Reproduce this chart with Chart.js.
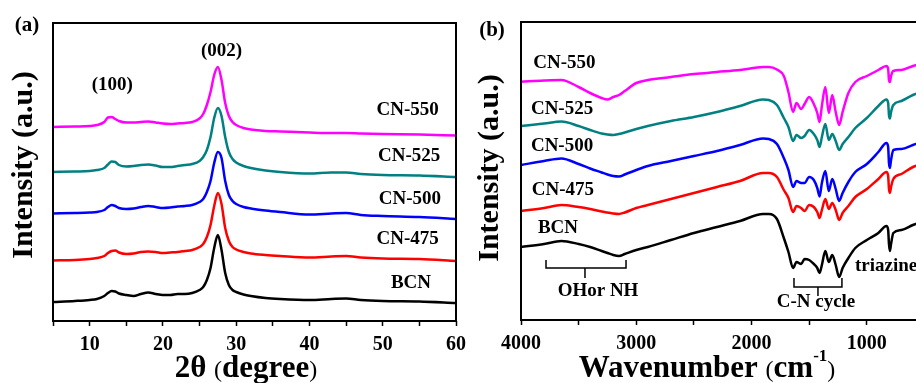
<!DOCTYPE html>
<html>
<head>
<meta charset="utf-8">
<script src="https://cdn.jsdelivr.net/npm/chart.js@4.4.1/dist/chart.umd.min.js"></script>
<style>
  html, body { margin: 0; padding: 0; background: #fff; }
  body { width: 916px; height: 383px; overflow: hidden; position: relative; }
  canvas { position: absolute; top: 0; }
  #xrdChart { left: 0; }
  #ftirChart { left: 470px; }
</style>
</head>
<body>
<canvas id="xrdChart" width="490" height="383"></canvas>
<canvas id="ftirChart" width="480" height="383"></canvas>
<script>
// samples, bottom to top
const samples = ['BCN', 'CN-475', 'CN-500', 'CN-525', 'CN-550'];
const colors = ['#000000', '#ff0000', '#0000ff', '#008080', '#ff00ff'];

// (a) XRD, stacked intensities (a.u.)
const twoTheta = [5, 8, 10, 11, 12, 12.5, 13, 13.5, 14, 15, 16, 17, 18, 19, 20, 21, 22, 23, 24, 25,
  25.5, 26, 26.5, 27, 27.5, 28, 28.5, 29, 29.5, 30, 31, 32, 34, 36, 40, 43, 45, 47, 50, 55, 60];
const xrdBCN = [20, 21, 22, 23, 26, 29, 31, 30.5, 28.5, 27, 26, 28, 29.5, 28, 27, 27, 28, 28, 29, 32,
  35, 42, 54, 74, 87, 72, 49, 37, 32, 30, 27.5, 26, 24, 23, 22, 23, 23.5, 22, 21, 20.5, 19];
const xrd475 = [61.5, 62, 63, 64, 66, 69, 71, 71.5, 69.5, 68, 68.5, 70, 70.5, 70, 69, 69.5, 70, 71, 72, 75,
  78, 85, 97, 116, 129, 118, 94, 81, 75, 72.5, 70, 68.5, 67, 66, 64.5, 65.5, 66, 64.5, 63.5, 63, 61];
const xrd500 = [108.5, 109, 109.5, 110, 112, 115, 117, 116, 114, 113, 113.5, 115, 116, 115, 114, 114.5, 115.5, 116, 117, 120,
  123, 130, 141, 159, 170, 164, 141, 127, 121, 118, 115, 113.5, 111.5, 110, 107.5, 108.5, 109, 107, 106, 105, 103];
const xrd525 = [150, 150.5, 151, 152, 154, 157.5, 160.5, 160, 157, 155.5, 156, 157, 157.5, 156.5, 155, 155, 156, 157, 158, 161,
  165, 172, 185, 204, 214, 206, 185, 170, 163, 159.5, 156, 154, 151.5, 150, 148.5, 149.5, 149.5, 148, 147, 146.5, 145];
const xrd550 = [195, 195.5, 196, 197, 200, 204.5, 205, 203, 201, 199.5, 199.5, 200, 200.5, 199.5, 198.5, 198, 198.5, 199, 200, 203.5,
  208, 217, 230, 247, 255, 242, 219, 206, 200, 197, 194, 192.5, 191, 190.5, 189.5, 189, 189, 188.5, 188, 187.5, 186.5];
const xrdTicks = [5, 10, 15, 20, 25, 30, 35, 40, 45, 50, 55, 60];

// (b) FTIR, stacked transmittance (a.u.)
const wavenumber = [4000, 3800, 3650, 3500, 3400, 3300, 3250, 3200, 3150, 3100, 3000, 2900, 2700, 2500, 2300,
  2100, 1900, 1850, 1780, 1720, 1680, 1640, 1610, 1570, 1540, 1500, 1460, 1430, 1410, 1390,
  1360, 1330, 1300, 1270, 1240, 1210, 1160, 1100, 1000, 900, 830, 815, 808, 800, 790, 770, 700, 600, 500, 400];
const irBCN = [73, 76, 79, 76, 73, 69, 67, 65, 64, 66, 70, 73, 80, 87, 93,
  99, 106, 106, 101, 82, 68, 52, 58, 56, 61, 60, 56, 52, 47, 55,
  69, 58, 65, 55, 43, 52, 62, 72, 80, 87, 94, 90, 76, 69, 76, 87, 90, 95, 99, 102];
const ir475 = [109, 112, 115, 113, 111, 108.5, 107.5, 106.5, 106, 107.5, 112, 115, 121, 127, 133,
  139, 147, 147, 143, 130, 122, 108, 114, 112, 109, 115, 113, 108, 102, 110,
  121, 111, 117, 110, 100, 107, 114, 123, 131, 141, 148, 144, 131, 127, 133, 141, 146, 153, 157, 160];
const ir500 = [155, 159, 161.5, 156, 151.5, 147.5, 145.5, 144, 143.5, 145.5, 150, 154, 159, 164, 169,
  175, 181.5, 181, 176, 162, 150, 133, 139, 137, 137, 143, 140, 132, 123.5, 137,
  149, 129, 141, 131, 119, 127, 138, 148, 156, 168, 177, 173, 157, 152, 160, 170, 171, 175, 179, 182];
const ir525 = [194, 196.5, 198.5, 194, 190, 186.5, 185.5, 185, 186, 187.5, 191, 194, 199, 203, 208,
  214, 220.5, 220, 215, 202, 193, 179, 185, 182, 184, 190, 186, 180, 173, 183,
  196, 180, 186, 179, 170, 176, 183, 192, 202, 214, 220.5, 217, 205, 201.5, 208, 215, 219, 225, 229, 232];
const ir550 = [238.3, 239.5, 240, 233, 227, 222, 220.5, 223, 225, 229, 237, 240, 243, 246, 248,
  250, 253, 253, 250.5, 244, 228, 208, 217, 211, 216, 223, 216, 207, 198, 214,
  233, 207, 225, 208, 195, 208, 227, 238, 244, 250, 254, 251, 240, 238, 244, 249, 250, 254, 257, 259];
const irTicks = [4000, 3500, 3000, 2500, 2000, 1500, 1000, 500];

const xrdSeries = [xrdBCN, xrd475, xrd500, xrd525, xrd550];
const irSeries = [irBCN, ir475, ir500, ir525, ir550];

const serif = '"Liberation Serif", "Times New Roman", serif';

function makeSets(xs, series) {
  return series.map((ys, i) => ({
    label: samples[i],
    data: xs.map((x, j) => ({ x: x, y: ys[j] })),
    borderColor: colors[i],
    borderWidth: 2.5,
    pointRadius: 0,
    cubicInterpolationMode: 'monotone',
    fill: false
  }));
}

// frame, labels, brackets and axis titles
const notes = {
  id: 'notes',
  afterDraw(chart, args, o) {
    const { ctx, chartArea: a } = chart;
    const sx = chart.scales.x, sy = chart.scales.y;
    ctx.save();
    ctx.strokeStyle = '#000';
    ctx.fillStyle = '#000';
    ctx.lineWidth = 2;
    ctx.strokeRect(a.left, a.top, a.right - a.left, a.bottom - a.top);

    ctx.textBaseline = 'middle';
    o.labels.forEach(l => {
      ctx.font = 'bold 19px ' + serif;
      ctx.textAlign = l.align || 'center';
      ctx.fillText(l.text, sx.getPixelForValue(l.x), sy.getPixelForValue(l.y));
    });

    ctx.lineWidth = 1.5;
    (o.brackets || []).forEach(b => {
      const x1 = sx.getPixelForValue(b.from), x2 = sx.getPixelForValue(b.to);
      const xm = sx.getPixelForValue(b.mid);
      const yl = sy.getPixelForValue(b.y), yu = sy.getPixelForValue(b.up), yd = sy.getPixelForValue(b.down);
      ctx.beginPath();
      ctx.moveTo(x1, yu); ctx.lineTo(x1, yl); ctx.lineTo(x2, yl); ctx.lineTo(x2, yu);
      ctx.moveTo(xm, yl); ctx.lineTo(xm, yd);
      ctx.stroke();
    });

    // panel tag
    ctx.font = 'bold 21px ' + serif;
    ctx.textAlign = 'center';
    ctx.fillText(o.tag.text, o.tag.x, o.tag.y);

    // y title
    ctx.save();
    ctx.translate(o.yTitle.x, o.yTitle.y);
    ctx.rotate(-Math.PI / 2);
    ctx.font = 'bold 30px ' + serif;
    ctx.fillText('Intensity (a.u.)', 0, 0);
    ctx.restore();

    // x title made of runs
    ctx.textBaseline = 'alphabetic';
    ctx.textAlign = 'left';
    let total = 0;
    o.xTitle.runs.forEach(r => { ctx.font = r.font + ' ' + serif; r.w = ctx.measureText(r.text).width; total += r.w; });
    let cx = o.xTitle.x - total / 2;
    o.xTitle.runs.forEach(r => {
      ctx.font = r.font + ' ' + serif;
      ctx.fillText(r.text, cx, o.xTitle.y + (r.dy || 0));
      cx += r.w;
    });
    ctx.restore();
  }
};

function axisX(min, max, tickValues, labelEvery, height, reverse) {
  return {
    type: 'linear',
    min: min, max: max, reverse: !!reverse,
    afterBuildTicks: s => { s.ticks = tickValues.map(v => ({ value: v })); },
    ticks: {
      autoSkip: false, maxRotation: 0, padding: 7, color: '#000',
      font: { family: serif, size: 20, weight: 'bold' },
      callback: v => (v % labelEvery === 0 ? v : '')
    },
    grid: { drawOnChartArea: false, tickLength: 5, tickWidth: 1.5, tickColor: '#000' },
    border: { display: false },
    afterFit: s => { s.height = height; }
  };
}

new Chart(document.getElementById('xrdChart'), {
  type: 'line',
  data: { datasets: makeSets(twoTheta, xrdSeries) },
  options: {
    responsive: false,
    animation: false,
    layout: { padding: { top: 23, right: 34, left: 0, bottom: 0 } },
    plugins: {
      legend: { display: false },
      tooltip: { enabled: false },
      notes: {
        labels: [
          { text: 'CN-550', x: 53.4, y: 212 },
          { text: 'CN-525', x: 53.6, y: 166 },
          { text: 'CN-500', x: 53.7, y: 123 },
          { text: 'CN-475', x: 53.4, y: 83 },
          { text: 'BCN', x: 53.85, y: 39 },
          { text: '(100)', x: 13.1, y: 237 },
          { text: '(002)', x: 28.0, y: 271 }
        ],
        tag: { text: '(a)', x: 27, y: 26 },
        yTitle: { x: 24, y: 165 },
        xTitle: {
          x: 246, y: 377,
          runs: [
            { text: '2θ ', font: 'bold 31px' },
            { text: '(', font: '24px' },
            { text: 'degree', font: 'bold 31px' },
            { text: ')', font: '24px' }
          ]
        }
      }
    },
    scales: {
      x: axisX(5, 60, xrdTicks, 10, 62, false),
      y: {
        min: 1, max: 299,
        ticks: { display: false },
        grid: { display: false },
        border: { display: false },
        afterFit: s => { s.width = 53; }
      }
    }
  },
  plugins: [notes]
});

new Chart(document.getElementById('ftirChart'), {
  type: 'line',
  data: { datasets: makeSets(wavenumber, irSeries) },
  options: {
    responsive: false,
    animation: false,
    layout: { padding: { top: 22, right: 14, left: 0, bottom: 0 } },
    plugins: {
      legend: { display: false },
      tooltip: { enabled: false },
      notes: {
        labels: [
          { text: 'CN-550', x: 3623, y: 257 },
          { text: 'CN-525', x: 3644, y: 211 },
          { text: 'CN-500', x: 3644, y: 174 },
          { text: 'CN-475', x: 3636, y: 130 },
          { text: 'BCN', x: 3679, y: 92 },
          { text: 'OHor NH', x: 3332, y: 29 },
          { text: 'C-N cycle', x: 1441, y: 18 },
          { text: 'triazine', x: 1103, y: 54, align: 'left' }
        ],
        brackets: [
          { from: 3783, to: 3089, mid: 3445, y: 52, up: 60, down: 42 },
          { from: 1632, to: 1216, mid: 1424, y: 33, up: 42, down: 24 }
        ],
        tag: { text: '(b)', x: 22, y: 31 },
        yTitle: { x: 20, y: 168 },
        xTitle: {
          x: 237, y: 377,
          runs: [
            { text: 'Wavenumber ', font: 'bold 31px' },
            { text: '(', font: '24px' },
            { text: 'cm', font: 'bold 31px' },
            { text: '-1', font: 'bold 17px', dy: -16 },
            { text: ')', font: '24px' }
          ]
        }
      }
    },
    scales: {
      x: axisX(400, 4000, irTicks, 1000, 63, true),
      y: {
        min: 0, max: 298,
        ticks: { display: false },
        grid: { display: false },
        border: { display: false },
        afterFit: s => { s.width = 51; }
      }
    }
  },
  plugins: [notes]
});
</script>
</body>
</html>
